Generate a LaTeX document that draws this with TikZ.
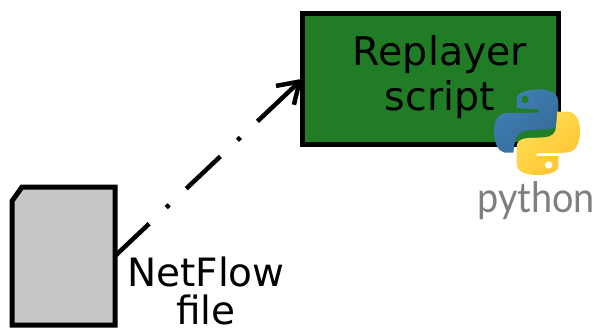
\documentclass[tikz,border=0pt]{standalone}
\usepackage{fontspec}
\setmainfont{DejaVu Sans}
\newfontfamily\pyfont{Lato}[FakeStretch=0.9]
\usetikzlibrary{arrows.meta,calc}
\definecolor{boxgreen}{HTML}{217D25}
\definecolor{filegrey}{HTML}{C6C6C6}
\definecolor{pygrey}{HTML}{7F7F7F}
\definecolor{pyblueA}{HTML}{3F7FB5}
\definecolor{pyblueB}{HTML}{366A96}
\definecolor{pyyellowA}{HTML}{FFDF55}
\definecolor{pyyellowB}{HTML}{FFC331}
\tikzset{
  x=1pt,y=-1pt,
  scriptbox/.style={draw=black,fill=boxgreen,line width=5pt,minimum width=255.5pt,minimum height=130.5pt,inner sep=0pt,outer sep=0pt},
  filebox/.style={minimum width=103pt,minimum height=138pt,inner sep=0pt,outer sep=0pt},
  fileoutline/.style={draw=black,fill=filegrey,line width=5pt,miter limit=4},
  boxlabel/.style={font=\fontsize{39.5}{45}\selectfont,align=center,inner sep=0pt,text=black},
  filelabel/.style={font=\fontsize{39}{38}\selectfont,align=center,inner sep=0pt,text=black},
  flow/.style={draw=black,line width=4.5pt,dash pattern=on 47pt off 23.5pt on 4pt off 23.5pt},
  flowhead/.style={draw=black,line width=4.5pt,-{Straight Barb[length=20pt,width=26pt,line width=4.5pt]}},
}
\begin{document}
\begin{tikzpicture}
\useasboundingbox (0,0) rectangle (599,327);
\node[scriptbox] (box) at (430.25,78.75) {};
\node[filebox] (file) at (63.5,256) {};
\path[fileoutline] (file.south west) -- ([yshift=-14pt]file.north west) -- ([xshift=10pt]file.north west) -- (file.north east) -- (file.south east) -- cycle;
\coordinate (dashend) at ($(file.east)!0.772!(box.west)$);
\draw[flow] (file.east) -- (dashend);
\draw[flowhead] (dashend) -- (box.west);
\node[boxlabel] (boxtext) at (440,77) {Replayer\\script};
\node[filelabel] (filetext) at (206,291) {NetFlow\\file};
\begin{scope}[shift={(470,70)},x=0.3333pt,y=-0.3333pt]
 \path[left color=pyblueA,right color=pyblueB,shading angle=40]
  (205,58) .. controls (245,58) and (265,70) .. (265,100) -- (265,150)
  .. controls (265,170) and (250,178) .. (230,178) -- (180,180)
  .. controls (150,182) and (135,200) .. (133,225) -- (130,248) -- (105,248)
  .. controls (85,245) and (72,220) .. (72,185) .. controls (72,150) and (85,130) .. (110,129)
  -- (205,128) -- (205,118) -- (140,115) -- (140,85)
  .. controls (140,68) and (170,58) .. (205,58) -- cycle;
 \fill[boxgreen] (165,88) circle (11);
 \path[left color=pyyellowA,right color=pyyellowB,shading angle=40]
  (262,125) -- (295,125) .. controls (318,128) and (330,150) .. (330,185)
  .. controls (330,220) and (318,245) .. (290,248) -- (200,250) -- (200,258) -- (265,258) -- (265,290)
  .. controls (265,305) and (235,315) .. (205,315) .. controls (165,315) and (140,305) .. (140,280)
  -- (140,230) .. controls (140,212) and (155,205) .. (175,204) -- (225,202)
  .. controls (245,200) and (258,190) .. (258,170) -- cycle;
 \fill[white] (236,285) circle (11);
\end{scope}
\node[font=\pyfont\fontsize{42}{46}\selectfont,text=pygrey,inner sep=0pt,anchor=base] (pytext) at (536,212) {python};
\end{tikzpicture}
\end{document}
